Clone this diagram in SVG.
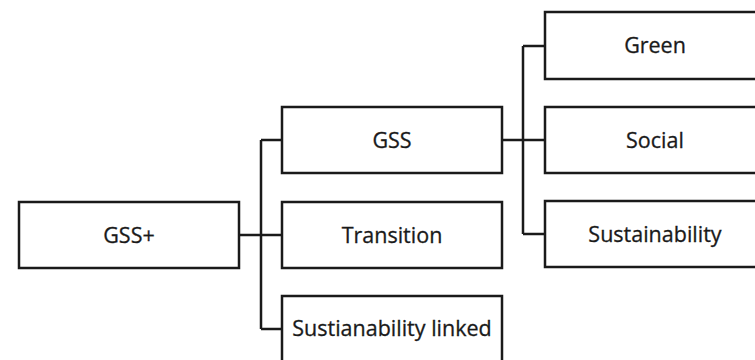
<svg xmlns="http://www.w3.org/2000/svg" width="755" height="360" viewBox="0 0 755 360">
<style>
.box{fill:#fff;stroke:#1a1a1a;stroke-width:2.5}
.lbl{font-family:"Open Sans","Liberation Sans",sans-serif;font-size:21.5px;fill:#1a1a1a;text-anchor:middle;stroke:#1a1a1a;stroke-width:0.3}
.con{fill:none;stroke:#1a1a1a;stroke-width:2.5}
</style>
<rect width="755" height="360" fill="#fff"/>
<g id="connectors">
<path class="con" d="M239,235 H282 M261,140 V329 M261,140 H282 M261,329 H282"/>
<path class="con" d="M502,140 H545 M523,46 V234 M523,46 H545 M523,234 H545"/>
</g>
<g id="gssplus"><rect class="box" x="19" y="202" width="220" height="66"/><text class="lbl" x="129" y="243">GSS+</text></g>
<g id="gss"><rect class="box" x="282" y="107" width="220" height="66"/><text class="lbl" x="392" y="148">GSS</text></g>
<g id="transition"><rect class="box" x="282" y="202" width="220" height="66"/><text class="lbl" x="392" y="243">Transition</text></g>
<g id="sustlinked"><rect class="box" x="282" y="296" width="220" height="66"/><text class="lbl" x="392" y="336">Sustianability linked</text></g>
<g id="green"><rect class="box" x="545" y="12" width="220" height="67"/><text class="lbl" x="655" y="53">Green</text></g>
<g id="social"><rect class="box" x="545" y="107" width="220" height="66"/><text class="lbl" x="655" y="148">Social</text></g>
<g id="sustainability"><rect class="box" x="545" y="201" width="220" height="66"/><text class="lbl" x="655" y="242">Sustainability</text></g>
</svg>
